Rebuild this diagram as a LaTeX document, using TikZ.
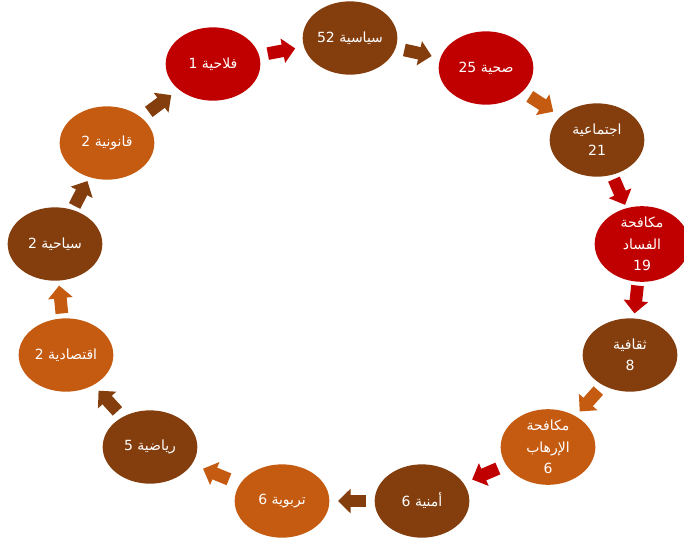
\documentclass[tikz,border=0pt]{standalone}
\usepackage{fontspec}
\newfontfamily\arabicfont[Script=Arabic]{DejaVu Sans}
\TeXXeTstate=1
\usepackage{xcolor}
\usetikzlibrary{shapes.geometric,arrows.meta,calc}
\definecolor{brn}{RGB}{132,62,14}
\definecolor{org}{RGB}{197,90,17}
\definecolor{rd}{RGB}{192,0,0}

\begin{document}
\begin{tikzpicture}[x=0.75pt, y=-0.75pt,
  bub/.style={ellipse, minimum width=71pt, minimum height=55pt, inner sep=0pt,
    text=white, align=center, font=\arabicfont\fontsize{10.5}{16}\selectfont},
  blk/.style={line width=9.5pt, -{Triangle[width=18pt,length=9.5pt]}}]
\useasboundingbox (0,0) rectangle (684,540);
% the thirteen circles, clockwise from the top
\node[bub, fill=brn] (siyasiya) at (350,38) {\beginR سياسية 52\endR};
\node[bub, fill=rd] (sihhiya) at (486,68) {\beginR صحية 25\endR};
\node[bub, fill=brn] (ijtimaiya) at (597,140) {\beginR اجتماعية\endR\\21};
\node[bub, fill=rd] (fasad) at (642,244) {\beginR مكافحة\endR\\\beginR الفساد\endR\\19};
\node[bub, fill=brn] (thaqafiya) at (630,355) {\beginR ثقافية\endR\\8};
\node[bub, fill=org] (irhab) at (548,447) {\beginR مكافحة\endR\\\beginR الإرهاب\endR\\6};
\node[bub, fill=brn] (amniya) at (422,501) {\beginR أمنية 6\endR};
\node[bub, fill=org] (tarbawiya) at (282,501) {\beginR تربوية 6\endR};
\node[bub, fill=brn] (riyadiya) at (150,447) {\beginR رياضية 5\endR};
\node[bub, fill=org] (iqtisadiya) at (66,355) {\beginR اقتصادية 2\endR};
\node[bub, fill=brn] (siyahiya) at (55,244) {\beginR سياحية 2\endR};
\node[bub, fill=org] (qanuniya) at (107,143) {\beginR قانونية 2\endR};
\node[bub, fill=rd] (falahiya) at (213,64) {\beginR فلاحية 1\endR};
% block arrows between neighbours
\draw[blk, brn] ($(siyasiya)!0.5!(sihhiya)!10.5pt!(siyasiya)$) -- ($(siyasiya)!0.5!(sihhiya)!10.5pt!(sihhiya)$);
\draw[blk, org] ($(sihhiya)!0.5!(ijtimaiya)!10.5pt!(sihhiya)$) -- ($(sihhiya)!0.5!(ijtimaiya)!10.5pt!(ijtimaiya)$);
\draw[blk, rd] ($(ijtimaiya)!0.5!(fasad)!10.5pt!(ijtimaiya)$) -- ($(ijtimaiya)!0.5!(fasad)!10.5pt!(fasad)$);
\draw[blk, rd] ($(fasad)!0.5!(thaqafiya)!10.5pt!(fasad)$) -- ($(fasad)!0.5!(thaqafiya)!10.5pt!(thaqafiya)$);
\draw[blk, org] ($(thaqafiya)!0.5!(irhab)!10.5pt!(thaqafiya)$) -- ($(thaqafiya)!0.5!(irhab)!10.5pt!(irhab)$);
\draw[blk, rd] ($(irhab)!0.5!(amniya)!10.5pt!(irhab)$) -- ($(irhab)!0.5!(amniya)!10.5pt!(amniya)$);
\draw[blk, brn] ($(amniya)!0.5!(tarbawiya)!10.5pt!(amniya)$) -- ($(amniya)!0.5!(tarbawiya)!10.5pt!(tarbawiya)$);
\draw[blk, org] ($(tarbawiya)!0.5!(riyadiya)!10.5pt!(tarbawiya)$) -- ($(tarbawiya)!0.5!(riyadiya)!10.5pt!(riyadiya)$);
\draw[blk, brn] ($(riyadiya)!0.5!(iqtisadiya)!10.5pt!(riyadiya)$) -- ($(riyadiya)!0.5!(iqtisadiya)!10.5pt!(iqtisadiya)$);
\draw[blk, org] ($(iqtisadiya)!0.5!(siyahiya)!10.5pt!(iqtisadiya)$) -- ($(iqtisadiya)!0.5!(siyahiya)!10.5pt!(siyahiya)$);
\draw[blk, brn] ($(siyahiya)!0.5!(qanuniya)!10.5pt!(siyahiya)$) -- ($(siyahiya)!0.5!(qanuniya)!10.5pt!(qanuniya)$);
\draw[blk, brn] ($(qanuniya)!0.5!(falahiya)!10.5pt!(qanuniya)$) -- ($(qanuniya)!0.5!(falahiya)!10.5pt!(falahiya)$);
\draw[blk, rd] ($(falahiya)!0.5!(siyasiya)!10.5pt!(falahiya)$) -- ($(falahiya)!0.5!(siyasiya)!10.5pt!(siyasiya)$);
\end{tikzpicture}
\end{document}
